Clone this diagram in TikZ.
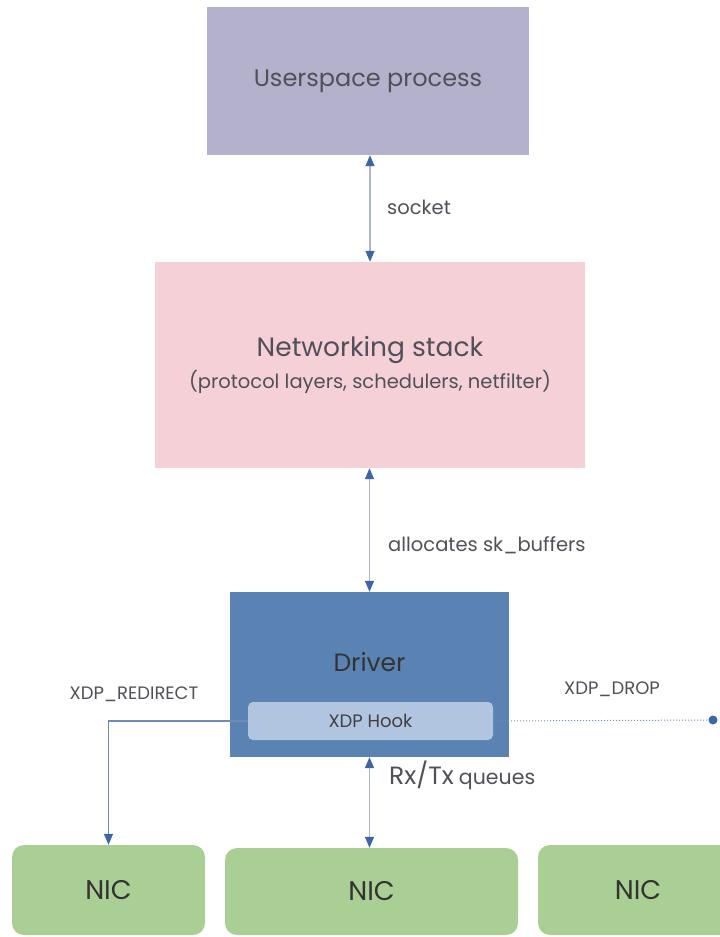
\documentclass[tikz,border=0pt]{standalone}
\usepackage{fontspec}
\setmainfont{Poppins}
\usetikzlibrary{arrows.meta,positioning}
\definecolor{userfill}{HTML}{B4B1CC}
\definecolor{netfill}{HTML}{F6D0D7}
\definecolor{drvfill}{HTML}{5A83B3}
\definecolor{hookfill}{HTML}{B2C5E0}
\definecolor{nicfill}{HTML}{AACF94}
\definecolor{arrblue}{HTML}{3C66A4}
\definecolor{linegray}{HTML}{AEB6C6}
\definecolor{redirline}{HTML}{6F8AB5}
\definecolor{txtgray}{HTML}{505058}

\begin{document}
\begin{tikzpicture}[x=1pt,y=-1pt,
    layer/.style={inner sep=0pt,text=txtgray},
    nicbox/.style={layer,fill=nicfill,rounded corners=12pt,minimum height=90pt,
      font=\fontsize{27}{30}\selectfont,text=black!80},
    twoway/.style={draw=linegray,line width=1.2pt,{Triangle[color=arrblue,length=11pt,width=9pt]}-{Triangle[color=arrblue,length=11pt,width=9pt]}},
    lbl/.style={inner sep=0pt,text=txtgray,font=\fontsize{19.5}{22}\selectfont}]
         \useasboundingbox (0,0) rectangle (720,937);
         \clip (0,0) rectangle (720,937);
         \node[layer,fill=userfill,minimum width=322pt,minimum height=148pt,
           font=\fontsize{24}{28}\selectfont] (user) at (368,81) {Userspace process};
         \node[layer,fill=netfill,minimum width=430pt,minimum height=206pt,align=center]
           (net) at (370,365)
           {{\fontsize{26.5}{30}\selectfont Networking stack}\\[6pt]
            {\fontsize{19.5}{22}\selectfont (protocol layers, schedulers, netfilter)}};
         \node[layer,fill=drvfill,minimum width=279pt,minimum height=165pt] (drv) at (369.5,674.5) {};
         \node[layer,font=\fontsize{25}{28}\selectfont,text=black!80] (drvname) at (369.5,662) {Driver};
         \node[layer,fill=hookfill,rounded corners=5pt,minimum width=245pt,minimum height=38pt,
           font=\fontsize{18}{20}\selectfont,text=black!75] (hook) at (370.5,721) {XDP Hook};
         \node[nicbox,minimum width=193pt] (nicA) at (108.5,890) {NIC};
         \node[nicbox,minimum width=293pt,minimum height=87pt] (nicB) at (371.5,891.5) {NIC};
         \node[nicbox,minimum width=200pt] (nicC) at (638,890) {NIC};
         \coordinate (dropend) at (713,720);
         \draw[twoway] (user.south -| net.north) -- (net.north);
         \draw[twoway] (net.south -| drv.north) -- (drv.north);
         \draw[twoway] (drv.south) -- (nicB.north -| drv.south);
         \draw[draw=redirline,line width=1.2pt,-{Triangle[color=arrblue,length=11pt,width=9pt]}]
           (hook.west) -| (nicA.north);
         \draw[draw=redirline,line width=1pt,dotted] (hook.east) -- (dropend);
         \fill[arrblue] (dropend) circle (4.5pt);
         \node[lbl,anchor=west] (socklbl) at (387,207) {socket};
         \node[lbl,anchor=west] (alloclbl) at (388,545) {allocates sk\_buffers};
         \node[lbl,font=\fontsize{18}{20}\selectfont] (redirlbl) at (134,694) {XDP\_REDIRECT};
         \node[lbl,font=\fontsize{18}{20}\selectfont] (droplbl) at (612,689) {XDP\_DROP};
         \node[lbl,anchor=west] (queuelbl) at (389,775)
           {{\fontsize{25}{27}\selectfont Rx/Tx} {\fontsize{20.5}{22}\selectfont queues}};
       \end{tikzpicture}
\end{document}
